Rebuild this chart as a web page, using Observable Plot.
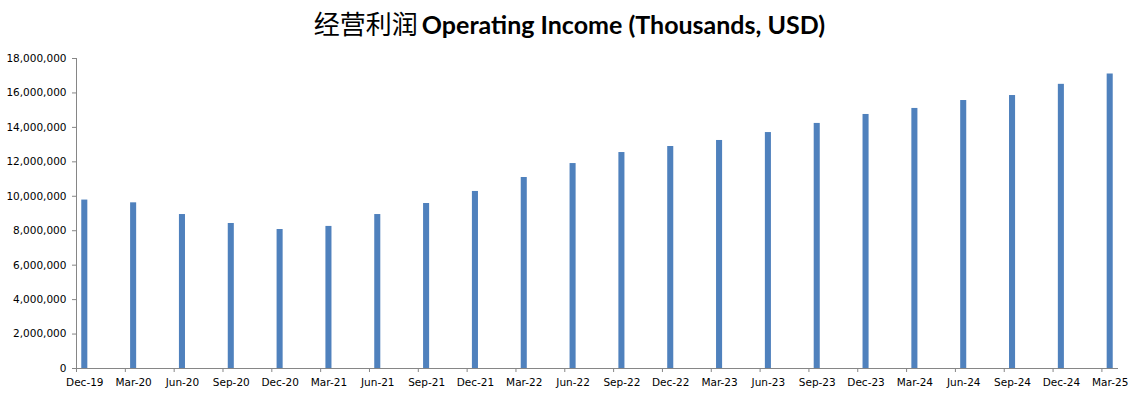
<!DOCTYPE html>
<html>
<head>
<meta charset="utf-8">
<script src="https://cdn.jsdelivr.net/npm/d3@7"></script>
<script src="https://cdn.jsdelivr.net/npm/@observablehq/plot@0.6"></script>
<style>
  html, body { margin: 0; padding: 0; background: #fff; }
  #title { height: 45px; line-height: 45px; text-align: center; white-space: nowrap; color: #000; }
  #title .zh { font-family: "Noto Sans CJK SC", serif; font-size: 26px; font-weight: 400; }
  #title .en { font-family: Lato, "Open Sans", sans-serif; font-size: 25px; font-weight: 700; }
  #chart svg text { font-family: "DejaVu Sans", Verdana, sans-serif; }
</style>
</head>
<body>
<div id="title"><span class="zh">经营利润</span> <span class="en">Operating Income (Thousands, USD)</span></div>
<div id="chart"></div>
<script>
const quarters = ["Dec-19","Mar-20","Jun-20","Sep-20","Dec-20","Mar-21","Jun-21","Sep-21",
  "Dec-21","Mar-22","Jun-22","Sep-22","Dec-22","Mar-23","Jun-23","Sep-23",
  "Dec-23","Mar-24","Jun-24","Sep-24","Dec-24","Mar-25"];
const operatingIncome = [9780000, 9620000, 8940000, 8420000, 8070000, 8250000, 8940000, 9580000,
  10280000, 11090000, 11900000, 12540000, 12890000, 13240000, 13700000, 14230000,
  14750000, 15100000, 15560000, 15850000, 16500000, 17100000];
const yTicks = [0, 2000000, 4000000, 6000000, 8000000, 10000000, 12000000, 14000000, 16000000, 18000000];

const data = quarters.map((q, i) => ({q, i, v: operatingIncome[i]}));
const pad = 0.17, half = 0.062;
const axisColor = "#868686";

const chart = Plot.plot({
  width: 1139,
  height: 358,
  marginTop: 13,
  marginBottom: 35,
  marginLeft: 76,
  marginRight: 21,
  style: {fontSize: "10.5px", color: "#000", background: "#fff"},
  x: {type: "linear", domain: [-pad, quarters.length - 1 + pad], axis: null},
  y: {domain: [0, 18000000], axis: null},
  marks: [
    Plot.rectY(data, {x1: d => d.i - half, x2: d => d.i + half, y1: 0, y2: "v", fill: "#4F81BD"}),
    Plot.ruleY([0], {stroke: axisColor}),
    Plot.ruleX([-pad], {stroke: axisColor}),
    Plot.axisX(d3.range(quarters.length).map(i => i - pad), {tickSize: 4, tickFormat: () => "", stroke: axisColor, label: null}),
    Plot.axisX(d3.range(quarters.length), {tickSize: 0, tickPadding: 10, tickFormat: i => quarters[i], fill: "#000", fontSize: 10.5, label: null}),
    Plot.axisY(yTicks, {tickSize: 4, tickPadding: 6, tickFormat: d3.format(","), stroke: axisColor, fill: "#000", fontSize: 10.5, label: null})
  ]
});
document.getElementById("chart").appendChild(chart);
</script>
</body>
</html>
